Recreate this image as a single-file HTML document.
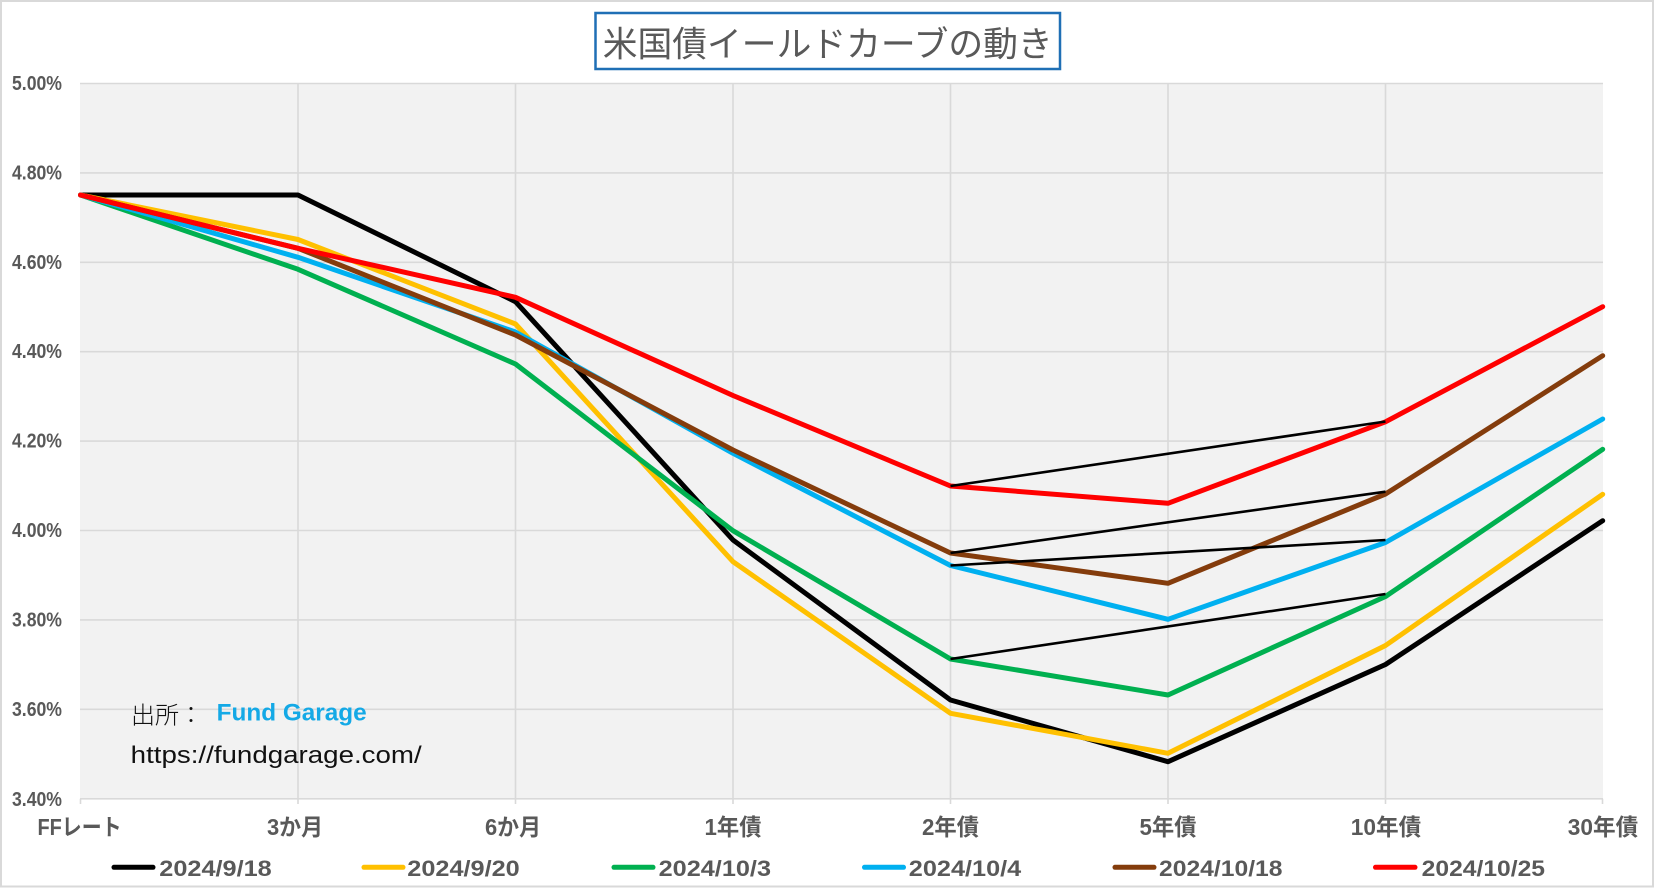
<!DOCTYPE html>
<html><head><meta charset="utf-8"><style>
html,body{margin:0;padding:0;background:#fff;}
svg{display:block;}
.ax{font-family:"Liberation Sans","Noto Sans CJK JP",sans-serif;font-weight:bold;fill:#595959;}
</style></head><body>
<svg width="1655" height="888" viewBox="0 0 1655 888" xmlns="http://www.w3.org/2000/svg">
<rect x="0" y="0" width="1655" height="888" fill="#fff"/>
<rect x="1" y="1" width="1652" height="885.5" fill="none" stroke="#d9d9d9" stroke-width="2"/>
<!-- plot area -->
<rect x="80" y="83.5" width="1523" height="715.5" fill="#f2f2f2"/>
<g stroke="#d9d9d9" stroke-width="1.6">
<line x1="80" y1="83.5" x2="1603" y2="83.5"/>
<line x1="80" y1="172.9" x2="1603" y2="172.9"/>
<line x1="80" y1="262.3" x2="1603" y2="262.3"/>
<line x1="80" y1="351.7" x2="1603" y2="351.7"/>
<line x1="80" y1="441.1" x2="1603" y2="441.1"/>
<line x1="80" y1="530.5" x2="1603" y2="530.5"/>
<line x1="80" y1="619.9" x2="1603" y2="619.9"/>
<line x1="80" y1="709.3" x2="1603" y2="709.3"/>
<line x1="298" y1="83.5" x2="298" y2="804"/>
<line x1="515.5" y1="83.5" x2="515.5" y2="804"/>
<line x1="733" y1="83.5" x2="733" y2="804"/>
<line x1="950.5" y1="83.5" x2="950.5" y2="804"/>
<line x1="1168" y1="83.5" x2="1168" y2="804"/>
<line x1="1385.5" y1="83.5" x2="1385.5" y2="804"/>
<line x1="80.5" y1="798.8" x2="80.5" y2="804"/>
<line x1="1602.5" y1="798.8" x2="1602.5" y2="804"/>
<line x1="80" y1="798.8" x2="1603" y2="798.8"/>
</g>
<!-- title -->
<rect x="595.5" y="13" width="464.5" height="56" fill="#fff" stroke="#1f6fb5" stroke-width="2.5"/>
<text x="602.7" y="42" font-family="'Noto Sans CJK JP','Liberation Sans',sans-serif" font-size="35" fill="#595959" dominant-baseline="central" textLength="450" lengthAdjust="spacingAndGlyphs">米国債イールドカーブの動き</text>
<!-- y labels -->
<g class="ax" font-size="20.5" dominant-baseline="central">
<text x="12" y="83.5" textLength="50" lengthAdjust="spacingAndGlyphs">5.00%</text>
<text x="12" y="172.9" textLength="50" lengthAdjust="spacingAndGlyphs">4.80%</text>
<text x="12" y="262.3" textLength="50" lengthAdjust="spacingAndGlyphs">4.60%</text>
<text x="12" y="351.7" textLength="50" lengthAdjust="spacingAndGlyphs">4.40%</text>
<text x="12" y="441.1" textLength="50" lengthAdjust="spacingAndGlyphs">4.20%</text>
<text x="12" y="530.5" textLength="50" lengthAdjust="spacingAndGlyphs">4.00%</text>
<text x="12" y="619.9" textLength="50" lengthAdjust="spacingAndGlyphs">3.80%</text>
<text x="12" y="709.3" textLength="50" lengthAdjust="spacingAndGlyphs">3.60%</text>
<text x="12" y="799.5" textLength="50" lengthAdjust="spacingAndGlyphs">3.40%</text>
</g>
<!-- x labels -->
<g class="ax" font-size="23" dominant-baseline="central" text-anchor="middle">
<text x="79.5" y="827" textLength="84" lengthAdjust="spacingAndGlyphs">FFレート</text>
<text x="295" y="827" textLength="56" lengthAdjust="spacingAndGlyphs">3か月</text>
<text x="513" y="827" textLength="56" lengthAdjust="spacingAndGlyphs">6か月</text>
<text x="733" y="827" textLength="57" lengthAdjust="spacingAndGlyphs">1年債</text>
<text x="950.5" y="827" textLength="57" lengthAdjust="spacingAndGlyphs">2年債</text>
<text x="1168" y="827" textLength="57" lengthAdjust="spacingAndGlyphs">5年債</text>
<text x="1386" y="827" textLength="70.5" lengthAdjust="spacingAndGlyphs">10年債</text>
<text x="1603" y="827" textLength="70.5" lengthAdjust="spacingAndGlyphs">30年債</text>
</g>
<!-- source -->
<text x="131" y="713" font-family="'Noto Sans CJK JP',sans-serif" font-size="24" fill="#111" font-weight="300" dominant-baseline="central">出所：</text>
<text x="216.7" y="713" font-family="'Liberation Sans',sans-serif" font-size="24" font-weight="bold" fill="#14a9e6" dominant-baseline="central" textLength="150" lengthAdjust="spacingAndGlyphs">Fund Garage</text>
<text x="130.7" y="763" font-family="'Liberation Sans',sans-serif" font-size="24.5" fill="#111" textLength="291" lengthAdjust="spacingAndGlyphs">https://fundgarage.com/</text>
<!-- series -->
<g fill="none" stroke-width="5" stroke-linejoin="round" stroke-linecap="round">
<polyline stroke="#000000" points="80.5,195 298,195 515.5,301.7 733,540 950.5,700 1168,761.7 1385.5,664.5 1602.7,520.7"/>
<polyline stroke="#ffc000" points="80.5,195 298,239.5 515.5,324 733,561.7 950.5,713.3 1168,753.3 1385.5,645.5 1602.7,494.3"/>
<polyline stroke="#00b050" points="80.5,195 298,269.3 515.5,364 733,530.7 950.5,659 1168,695 1385.5,596.5 1602.7,449.3"/>
<polyline stroke="#00b0f0" points="80.5,195 298,257.3 515.5,332 733,453.3 950.5,565.5 1168,619.3 1385.5,542.5 1602.7,419"/>
<polyline stroke="#843c0c" points="80.5,195 298,248.3 515.5,335 733,450 950.5,553 1168,583.3 1385.5,494 1602.7,355.7"/>
<polyline stroke="#ff0000" points="80.5,195 298,248.3 515.5,297.3 733,395.5 950.5,486 1168,503.3 1385.5,421.8 1602.7,306.7"/>
</g>
<g stroke="#000" stroke-width="2.6" stroke-linecap="butt">
<line x1="950.5" y1="486" x2="1385.5" y2="421.5"/>
<line x1="950.5" y1="553" x2="1385.5" y2="491.7"/>
<line x1="950.5" y1="565.5" x2="1385.5" y2="540"/>
<line x1="950.5" y1="659" x2="1385.5" y2="594"/>
</g>
<!-- legend -->
<g stroke-width="5" stroke-linecap="round">
<line x1="114" y1="867.3" x2="153" y2="867.3" stroke="#000000"/>
<line x1="364" y1="867.3" x2="403" y2="867.3" stroke="#ffc000"/>
<line x1="614" y1="867.3" x2="653" y2="867.3" stroke="#00b050"/>
<line x1="864.5" y1="867.3" x2="903.5" y2="867.3" stroke="#00b0f0"/>
<line x1="1115" y1="867.3" x2="1154" y2="867.3" stroke="#843c0c"/>
<line x1="1375.5" y1="867.3" x2="1415" y2="867.3" stroke="#ff0000"/>
</g>
<g class="ax" font-size="22" dominant-baseline="central">
<text x="159.3" y="868.3" textLength="112.4" lengthAdjust="spacingAndGlyphs">2024/9/18</text>
<text x="407.3" y="868.3" textLength="112.4" lengthAdjust="spacingAndGlyphs">2024/9/20</text>
<text x="658.6" y="868.3" textLength="112.4" lengthAdjust="spacingAndGlyphs">2024/10/3</text>
<text x="908.8" y="868.3" textLength="112.4" lengthAdjust="spacingAndGlyphs">2024/10/4</text>
<text x="1159" y="868.3" textLength="123.5" lengthAdjust="spacingAndGlyphs">2024/10/18</text>
<text x="1421.7" y="868.3" textLength="123.3" lengthAdjust="spacingAndGlyphs">2024/10/25</text>
</g>
</svg>
</body></html>
